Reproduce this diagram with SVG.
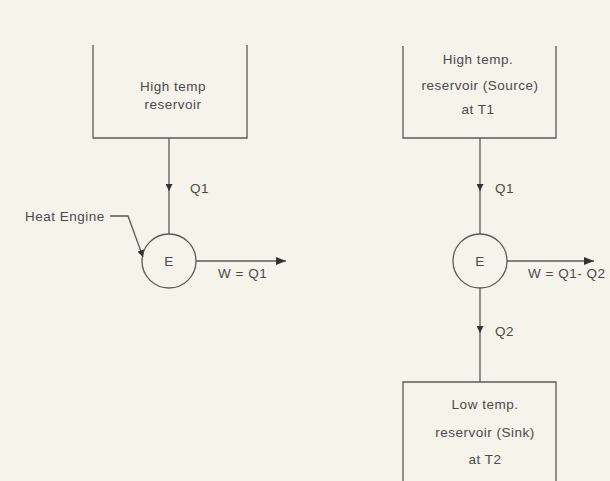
<svg xmlns="http://www.w3.org/2000/svg" width="610" height="481" viewBox="0 0 610 481">
<style>
.ln{stroke:#5a5a5a;stroke-width:1.3;fill:none}
.t{font-family:"Liberation Sans",Arial,sans-serif;font-size:13.5px;fill:#4a4a4a;letter-spacing:0.5px}
.c{text-anchor:middle}
</style>
<defs>
<marker id="ah" viewBox="0 0 10 10" refX="10" refY="5" markerWidth="7" markerHeight="7" markerUnits="userSpaceOnUse" orient="auto">
<path d="M0,0 L10,5 L0,10 z" fill="#333"/>
</marker>
<marker id="ahb" viewBox="0 0 10 10" refX="10" refY="5" markerWidth="10" markerHeight="10" markerUnits="userSpaceOnUse" orient="auto">
<path d="M0,1 L10,5 L0,9 z" fill="#333"/>
</marker>
</defs>
<rect width="610" height="481" fill="#f5f3ea"/>
<g id="hot-left">
<path class="ln" d="M93,45 V138 H247 V45"/>
<text class="t c" x="173" y="91">High temp</text>
<text class="t c" x="173" y="109">reservoir</text>
</g>
<g id="engine-left">
<circle class="ln" cx="169" cy="261" r="27"/>
<text class="t c" x="169" y="266">E</text>
</g>
<g id="label-heat-engine">
<text class="t" x="25" y="221">Heat Engine</text>
</g>
<g id="hot-right">
<path class="ln" d="M403,46 V138 H556 V46"/>
<text class="t c" x="478" y="64">High temp.</text>
<text class="t c" x="480" y="90">reservoir (Source)</text>
<text class="t c" x="478" y="114">at T1</text>
</g>
<g id="engine-right">
<circle class="ln" cx="480" cy="261" r="27"/>
<text class="t c" x="480" y="266">E</text>
</g>
<g id="cold-right">
<path class="ln" d="M403,481 V382 H556 V481"/>
<text class="t c" x="485" y="409">Low temp.</text>
<text class="t c" x="485" y="437">reservoir (Sink)</text>
<text class="t c" x="485" y="464">at T2</text>
</g>
<g id="connectors">
<path class="ln" d="M169,138 V191" marker-end="url(#ah)"/>
<path class="ln" d="M169,190 V234"/>
<path class="ln" d="M196,261 H286" marker-end="url(#ahb)"/>
<path class="ln" d="M110,216 H128 L143,257" marker-end="url(#ah)"/>
<path class="ln" d="M480,138 V191" marker-end="url(#ah)"/>
<path class="ln" d="M480,190 V234"/>
<path class="ln" d="M507,261 H594" marker-end="url(#ahb)"/>
<path class="ln" d="M480,288 V333" marker-end="url(#ah)"/>
<path class="ln" d="M480,332 V382"/>
<text class="t" x="190" y="193">Q1</text>
<text class="t" x="218" y="278">W = Q1</text>
<text class="t" x="495" y="193">Q1</text>
<text class="t" x="528" y="278">W = Q1- Q2</text>
<text class="t" x="495" y="336">Q2</text>
</g>
</svg>
